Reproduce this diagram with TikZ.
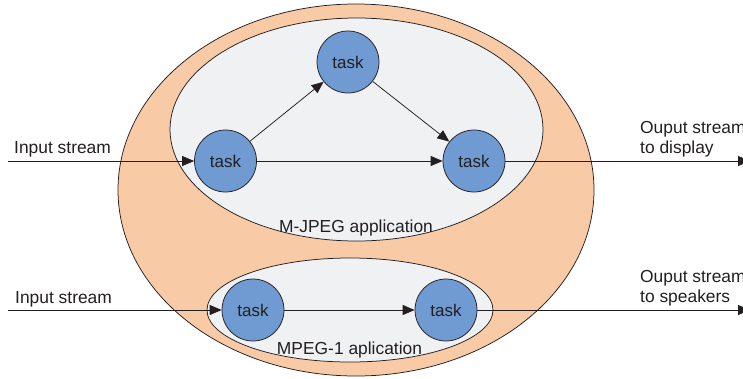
\documentclass[tikz,border=0pt]{standalone}
\usepackage{fontspec}
\setmainfont{Liberation Sans}
\usetikzlibrary{shapes.geometric,arrows.meta}

\definecolor{inkgray}{HTML}{231F20}
\definecolor{peach}{HTML}{F8CBA6}
\definecolor{appgray}{HTML}{F0F1F3}
\definecolor{taskblue}{HTML}{6F9BD2}

\tikzset{
  region/.style={ellipse, draw=inkgray, line width=0.75pt, inner sep=0pt},
  tasknode/.style={circle, draw=inkgray, line width=0.75pt, fill=taskblue,
    minimum size=62pt, inner sep=0pt, text=inkgray,
    font=\fontsize{17}{20}\selectfont},
  flow/.style={draw=inkgray, line width=0.75pt,
    -{Triangle[length=12pt,width=10pt]}},
  caption/.style={text=inkgray, inner sep=0pt,
    font=\fontsize{17.4}{20}\selectfont}
}

\begin{document}
\begin{tikzpicture}[x=1pt,y=-1pt]
  \useasboundingbox (0,0) rectangle (743,378);
  \clip (0,0) rectangle (743,378);

  % nested application regions
  \node[region, fill=peach, minimum width=476pt, minimum height=372pt] (system) at (356,190) {};
  \node[region, fill=appgray, minimum width=373pt, minimum height=223pt] (mjpeg) at (356.5,129.5) {};
  \node[region, fill=appgray, minimum width=286pt, minimum height=104pt] (mpeg) at (350,310) {};

  % tasks
  \node[tasknode] (t1) at (225.5,161) {task};
  \node[tasknode] (t2) at (348,62) {task};
  \node[tasknode] (t3) at (474,161) {task};
  \node[tasknode] (t4) at (253,310) {task};
  \node[tasknode] (t5) at (446,310) {task};

  % stream end points
  \coordinate (in1) at (8,161);
  \coordinate (out1) at (750,161);
  \coordinate (in2) at (8,310);
  \coordinate (out2) at (750,310);

  % M-JPEG data flow
  \draw[flow] (in1) -- (t1);
  \draw[flow] (t1) -- (t2);
  \draw[flow] (t2) -- (t3);
  \draw[flow] (t1) -- (t3);
  \draw[flow] (t3) -- (out1);

  % MPEG-1 data flow
  \draw[flow] (in2) -- (t4);
  \draw[flow] (t4) -- (t5);
  \draw[flow] (t5) -- (out2);

  % labels
  \node[caption, anchor=base west] (lin1) at (14,153) {Input stream};
  \node[caption, anchor=base west] (lin2) at (15,303) {Input stream};
  \node[caption, anchor=base west] (lout1a) at (640,133) {Ouput stream};
  \node[caption, anchor=base west] (lout1b) at (640,153) {to display};
  \node[caption, anchor=base west] (lout2a) at (640,282) {Ouput stream};
  \node[caption, anchor=base west] (lout2b) at (640,302) {to speakers};
  \node[caption, anchor=base] (lmjpeg) at (356,232) {M-JPEG application};
  \node[caption, anchor=base] (lmpeg) at (349.5,354) {MPEG-1 aplication};
\end{tikzpicture}
\end{document}
